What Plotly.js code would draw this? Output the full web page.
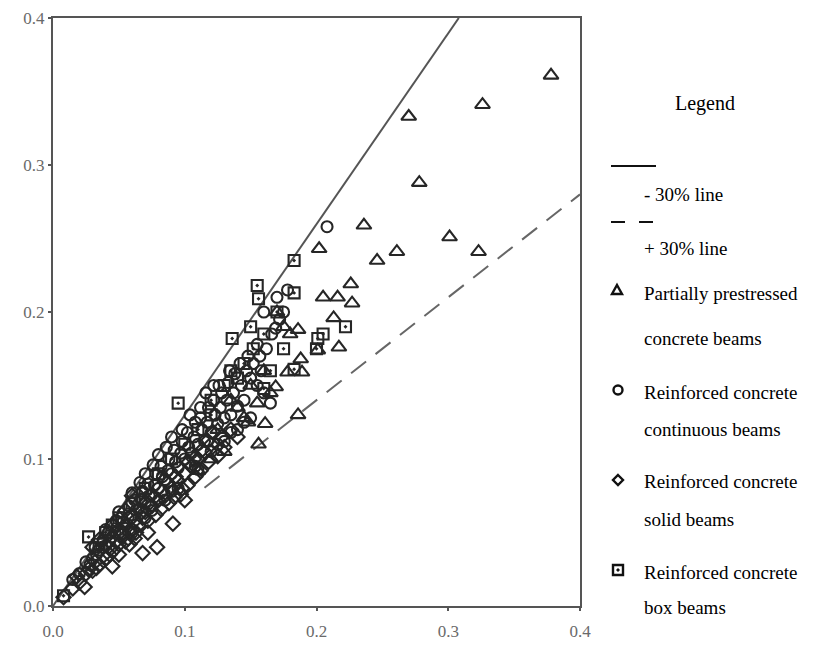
<!DOCTYPE html>
<html>
<head>
<meta charset="utf-8">
<script src="https://cdn.plot.ly/plotly-3.0.1.min.js"></script>
<style>html,body{margin:0;padding:0;background:#fff;}#chart{width:823px;height:646px;}</style>
</head>
<body>
<div id="chart"></div>
<script>
// Reference lines (endpoints)
const solidLineX = [0, 0.308];
const solidLineY = [0, 0.4];
const dashLineX = [0.115, 0.4];
const dashLineY = [0.0805, 0.28];

// Partially prestressed concrete beams
const ppcX = [0.378,0.326,0.270,0.278,0.236,0.202,0.301,0.261,0.246,0.323,0.226,0.205,0.216,0.227,0.213,0.186,0.217,0.201,0.188,0.178,0.189,0.169,0.148,0.161,0.186,0.156,0.140,0.135,0.125,0.130,0.120,0.150,0.160,0.165,0.175,0.170,0.180,0.145,0.110,0.155];
const ppcY = [0.361,0.341,0.333,0.288,0.259,0.243,0.251,0.241,0.235,0.241,0.219,0.210,0.210,0.206,0.196,0.188,0.176,0.174,0.168,0.159,0.159,0.149,0.125,0.124,0.130,0.110,0.135,0.140,0.120,0.105,0.100,0.150,0.160,0.145,0.190,0.200,0.185,0.128,0.092,0.138];

// Reinforced concrete continuous beams
const rccX = [0.015,0.020,0.025,0.030,0.032,0.035,0.038,0.040,0.042,0.045,0.048,0.050,0.052,0.055,0.058,0.060,0.062,0.065,0.068,0.070,0.072,0.075,0.078,0.080,0.082,0.085,0.088,0.090,0.092,0.095,0.098,0.100,0.102,0.105,0.108,0.110,0.112,0.115,0.118,0.120,0.122,0.125,0.128,0.130,0.133,0.135,0.138,0.140,0.142,0.145,0.148,0.150,0.155,0.158,0.160,0.165,0.169,0.170,0.175,0.208,0.178,0.108,0.120,0.090,0.075,0.130,0.140,0.150,
  0.028,0.033,0.037,0.043,0.047,0.053,0.057,0.063,0.067,0.073,0.077,0.083,0.087,0.093,0.097,0.103,0.107,0.113,0.117,0.123,0.127,0.132,0.137,0.143,0.147,0.152,0.157,0.162,0.166,0.172,0.060,0.070,0.085,0.095,0.110,0.125,0.135,0.145,0.160,0.155,0.040,0.050,0.060,0.070,0.080,0.090,
  0.098,0.104,0.116,0.126,0.134,0.086,0.076,0.066,0.112,0.122];
const rccY = [0.018,0.022,0.030,0.032,0.040,0.038,0.045,0.041,0.050,0.047,0.058,0.052,0.060,0.055,0.068,0.062,0.072,0.066,0.078,0.070,0.083,0.076,0.090,0.080,0.095,0.086,0.100,0.090,0.106,0.094,0.112,0.100,0.118,0.104,0.125,0.110,0.128,0.112,0.135,0.118,0.140,0.124,0.145,0.128,0.152,0.130,0.158,0.136,0.165,0.140,0.170,0.155,0.178,0.160,0.200,0.138,0.189,0.210,0.200,0.258,0.215,0.095,0.105,0.078,0.065,0.112,0.120,0.128,
  0.028,0.035,0.040,0.044,0.050,0.057,0.060,0.065,0.072,0.075,0.082,0.088,0.092,0.098,0.104,0.108,0.115,0.120,0.125,0.130,0.135,0.140,0.145,0.150,0.160,0.165,0.170,0.175,0.185,0.195,0.050,0.060,0.072,0.080,0.093,0.110,0.118,0.125,0.145,0.150,0.052,0.064,0.077,0.090,0.103,0.115,
  0.120,0.130,0.145,0.150,0.160,0.108,0.096,0.084,0.135,0.150];

// Reinforced concrete solid beams
const rcsX = [0.008,0.015,0.020,0.024,0.025,0.030,0.032,0.035,0.038,0.040,0.042,0.045,0.046,0.050,0.052,0.055,0.058,0.060,0.062,0.065,0.068,0.068,0.070,0.072,0.075,0.078,0.079,0.080,0.082,0.085,0.088,0.090,0.091,0.092,0.095,0.098,0.100,0.102,0.105,0.108,0.110,0.112,0.115,0.118,0.120,0.125,0.128,0.130,0.135,0.140,0.035,0.045,0.055,0.065,0.030,0.060,0.100,
  0.018,0.027,0.033,0.043,0.048,0.053,0.057,0.063,0.067,0.073,0.077,0.083,0.087,0.093,0.097,0.103,0.107,0.113,0.117,0.122,0.050,0.058,0.072,0.062];
const rcsY = [0.006,0.012,0.016,0.013,0.022,0.024,0.030,0.028,0.034,0.032,0.040,0.027,0.038,0.042,0.048,0.044,0.050,0.052,0.058,0.055,0.036,0.060,0.064,0.058,0.068,0.062,0.040,0.072,0.066,0.075,0.070,0.080,0.056,0.074,0.085,0.080,0.090,0.082,0.095,0.088,0.100,0.092,0.105,0.098,0.110,0.102,0.115,0.108,0.120,0.115,0.045,0.055,0.065,0.075,0.040,0.075,0.072,
  0.020,0.025,0.026,0.035,0.044,0.050,0.046,0.050,0.064,0.070,0.074,0.078,0.084,0.088,0.076,0.098,0.100,0.106,0.112,0.118,0.035,0.042,0.050,0.046];

// Reinforced concrete box beams
const rcbX = [0.008,0.027,0.095,0.136,0.155,0.156,0.183,0.183,0.201,0.222,0.160,0.183,0.150,0.152,0.160,0.170,0.145,0.130,0.120,0.110,0.100,0.090,0.080,0.070,0.060,0.050,0.040,0.035,0.045,0.120,0.140,0.135,0.175,0.165,0.200,0.205];
const rcbY = [0.007,0.047,0.138,0.182,0.218,0.209,0.235,0.213,0.182,0.190,0.148,0.161,0.190,0.175,0.185,0.200,0.165,0.150,0.140,0.120,0.110,0.100,0.090,0.080,0.070,0.060,0.050,0.042,0.055,0.130,0.155,0.160,0.175,0.160,0.175,0.185];

const tickVals = [0, 0.1, 0.2, 0.3, 0.4];
const tickText = ['0.0', '0.1', '0.2', '0.3', '0.4'];

const legendTitle = 'Legend';
const legendLines = [
  ['- 30% line'],
  ['+ 30% line'],
  ['Partially prestressed', 'concrete beams'],
  ['Reinforced concrete', 'continuous beams'],
  ['Reinforced concrete', 'solid beams'],
  ['Reinforced concrete', 'box beams']
];

const ink = '#262626';
function mk(x, y, sym, size) {
  return {x: x, y: y, type: 'scatter', mode: 'markers', showlegend: false, hoverinfo: 'skip',
    marker: {symbol: sym, size: size, color: ink, line: {color: ink, width: 2.1}}};
}

const traces = [
  {x: solidLineX, y: solidLineY, type: 'scatter', mode: 'lines', showlegend: false,
   line: {color: '#555', width: 2}},
  {x: dashLineX, y: dashLineY, type: 'scatter', mode: 'lines', showlegend: false,
   line: {color: '#666', width: 2, dash: '19px,12px'}},
  mk(rcsX, rcsY, 'diamond-open', 11),
  mk(rccX, rccY, 'circle-open', 11),
  mk(rcbX, rcbY, 'square-open-dot', 11),
  mk(ppcX, ppcY, 'triangle-up-open', 13)
];

const W = 823, H = 646;
const px = v => v / W;
const py = v => 1 - v / H;
const serif = 'Liberation Serif, Times New Roman, serif';

const annotations = [];
annotations.push({xref: 'paper', yref: 'paper', x: px(705), y: py(103), text: legendTitle, showarrow: false,
  xanchor: 'center', yanchor: 'middle', font: {family: serif, size: 20, color: '#000'}});
const rowsFlat = [[195], [248], [294, 339], [392, 429], [482, 519], [572, 607]];
legendLines.forEach((lines, i) => {
  lines.forEach((t, j) => {
    annotations.push({xref: 'paper', yref: 'paper', x: px(642), y: py(rowsFlat[i][j]), text: t, showarrow: false,
      xanchor: 'left', yanchor: 'middle', font: {family: serif, size: 19, color: '#000'}});
  });
});

// legend key symbols drawn as shapes (pixel positions of the key)
function P(x, y) { return px(x).toFixed(5) + ',' + py(y).toFixed(5); }
const keyLine = {color: '#111', width: 2.4};
const shapes = [
  {type: 'line', xref: 'paper', yref: 'paper', x0: px(611), x1: px(656), y0: py(166), y1: py(166),
   line: {color: '#111', width: 2}},
  {type: 'line', xref: 'paper', yref: 'paper', x0: px(611), x1: px(656), y0: py(222), y1: py(222),
   line: {color: '#111', width: 2, dash: '14px,14px'}},
  {type: 'path', xref: 'paper', yref: 'paper', path: 'M' + P(617, 285) + 'L' + P(622, 294) + 'L' + P(612, 294) + 'Z', line: keyLine},
  {type: 'circle', xref: 'paper', yref: 'paper', x0: px(613.5), x1: px(622.5), y0: py(394.5), y1: py(385.5), line: keyLine},
  {type: 'path', xref: 'paper', yref: 'paper', path: 'M' + P(618, 475) + 'L' + P(623, 480) + 'L' + P(618, 485) + 'L' + P(613, 480) + 'Z', line: keyLine},
  {type: 'rect', xref: 'paper', yref: 'paper', x0: px(613), x1: px(623), y0: py(575), y1: py(565), line: keyLine},
  {type: 'rect', xref: 'paper', yref: 'paper', x0: px(617), x1: px(619), y0: py(571), y1: py(569), line: {color: '#111', width: 1}, fillcolor: '#111'}
];

const axisCommon = {
  range: [0, 0.4], autorange: false, showgrid: false, zeroline: false,
  showline: true, mirror: true, linecolor: '#555', linewidth: 2,
  ticks: 'outside', ticklen: 3, tickwidth: 2, tickcolor: '#555',
  tickvals: tickVals, ticktext: tickText,
  tickfont: {family: serif, size: 17, color: '#6a6a6a'}, fixedrange: true
};

const layout = {
  width: W, height: H,
  margin: {l: 0, r: 0, t: 0, b: 0},
  paper_bgcolor: '#fff', plot_bgcolor: '#fff',
  showlegend: false,
  xaxis: Object.assign({}, axisCommon, {domain: [px(53), px(580)], ticklabelstandoff: 6}),
  yaxis: Object.assign({}, axisCommon, {domain: [py(606), py(18)], ticklabelstandoff: 0}),
  annotations: annotations,
  shapes: shapes
};

Plotly.newPlot('chart', traces, layout, {displayModeBar: false, staticPlot: true});
</script>
</body>
</html>
